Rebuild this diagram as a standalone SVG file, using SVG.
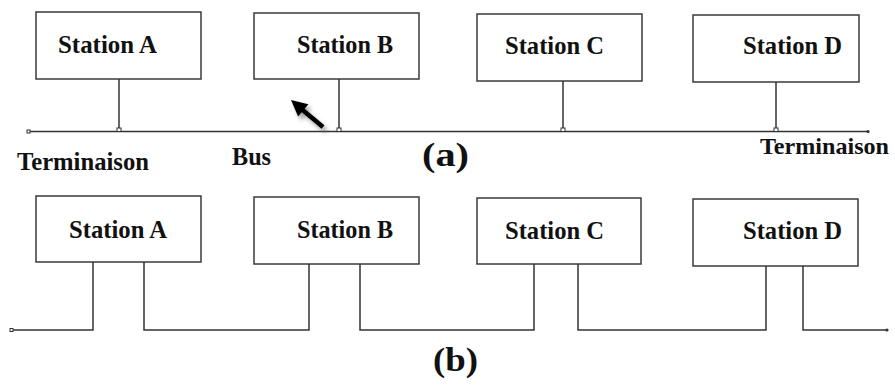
<svg xmlns="http://www.w3.org/2000/svg" width="895" height="385" viewBox="0 0 895 385">
<style>
.box{fill:#fff;stroke:#3a3a3a;stroke-width:1.5}
.ln{fill:none;stroke:#333;stroke-width:1.5}
.lbl{font-family:'Liberation Serif','DejaVu Serif',serif;font-weight:700;font-size:26px;fill:#111}
.sm{font-size:24px}
.cap{font-family:'Liberation Serif','DejaVu Serif',serif;font-weight:700;font-size:33px;fill:#111}
.tap{fill:#fff;stroke:#333;stroke-width:1}
</style>
<defs>
<filter id="sh" x="-50%" y="-50%" width="200%" height="200%">
<feGaussianBlur stdDeviation="2.2"/>
</filter>
</defs>

<g id="a-station-a"><rect class="box" x="36" y="12" width="165" height="67"/><text class="lbl" x="58" y="53" textLength="99" lengthAdjust="spacingAndGlyphs">Station A</text></g>
<g id="a-station-b"><rect class="box" x="254" y="13" width="165" height="66"/><text class="lbl" x="297" y="53" textLength="96" lengthAdjust="spacingAndGlyphs">Station B</text></g>
<g id="a-station-c"><rect class="box" x="477" y="14" width="165" height="67"/><text class="lbl" x="505" y="54" textLength="99" lengthAdjust="spacingAndGlyphs">Station C</text></g>
<g id="a-station-d"><rect class="box" x="693" y="15" width="166" height="67"/><text class="lbl" x="743" y="54" textLength="99" lengthAdjust="spacingAndGlyphs">Station D</text></g>

<g id="b-station-a"><rect class="box" x="36" y="196" width="165" height="66"/><text class="lbl" x="69" y="238" textLength="98" lengthAdjust="spacingAndGlyphs">Station A</text></g>
<g id="b-station-b"><rect class="box" x="254" y="197" width="165" height="67"/><text class="lbl" x="297" y="238" textLength="96" lengthAdjust="spacingAndGlyphs">Station B</text></g>
<g id="b-station-c"><rect class="box" x="477" y="198" width="164" height="66"/><text class="lbl" x="505" y="239" textLength="99" lengthAdjust="spacingAndGlyphs">Station C</text></g>
<g id="b-station-d"><rect class="box" x="693" y="199" width="165" height="67"/><text class="lbl" x="743" y="239" textLength="99" lengthAdjust="spacingAndGlyphs">Station D</text></g>

<g id="connectors">
<line class="ln" x1="29" y1="131.5" x2="868" y2="131.5"/>
<line class="ln" x1="119" y1="79" x2="119" y2="128"/>
<line class="ln" x1="339" y1="79" x2="339" y2="128"/>
<line class="ln" x1="563" y1="81" x2="563" y2="128"/>
<line class="ln" x1="776" y1="82" x2="776" y2="128"/>
<rect class="tap" x="117" y="128" width="4" height="3.5"/>
<rect class="tap" x="337" y="128" width="4" height="3.5"/>
<rect class="tap" x="561" y="128" width="4" height="3.5"/>
<rect class="tap" x="774" y="128" width="4" height="3.5"/>
<rect class="tap" x="27" y="130" width="3" height="3"/>
<circle cx="868" cy="131.5" r="1.6" fill="#333"/>

<polyline class="ln" points="12,330 93,330 93,262"/>
<polyline class="ln" points="144,262 144,330 309,330 309,264"/>
<polyline class="ln" points="360,264 360,330 534,330 534,264"/>
<polyline class="ln" points="578,264 578,330 766,330 766,266"/>
<polyline class="ln" points="803,266 803,330 887,330"/>
<rect class="tap" x="10" y="328.5" width="3" height="3"/>
<circle cx="887" cy="330" r="1.6" fill="#333"/>

<g id="arrow">
<g transform="translate(3,4)" filter="url(#sh)" opacity="0.55">
<line x1="323" y1="127" x2="303" y2="110" stroke="#555" stroke-width="4.5"/>
<path d="M291,100 L308.4,104.2 L298.1,116.4 Z" fill="#555"/>
</g>
<line x1="323" y1="127" x2="302" y2="109.5" stroke="#000" stroke-width="4.5"/>
<path d="M291,100 L308.4,104.2 L298.1,116.4 Z" fill="#000"/>
</g>
</g>

<text class="lbl" x="232" y="165" textLength="39" lengthAdjust="spacingAndGlyphs">Bus</text>
<text class="lbl" x="17" y="170" textLength="132" lengthAdjust="spacingAndGlyphs">Terminaison</text>
<text class="lbl sm" x="760" y="154" textLength="129" lengthAdjust="spacingAndGlyphs">Terminaison</text>
<text class="cap" x="422" y="166" textLength="47" lengthAdjust="spacingAndGlyphs">(a)</text>
<text class="cap" x="433" y="371" textLength="45" lengthAdjust="spacingAndGlyphs">(b)</text>
</svg>
